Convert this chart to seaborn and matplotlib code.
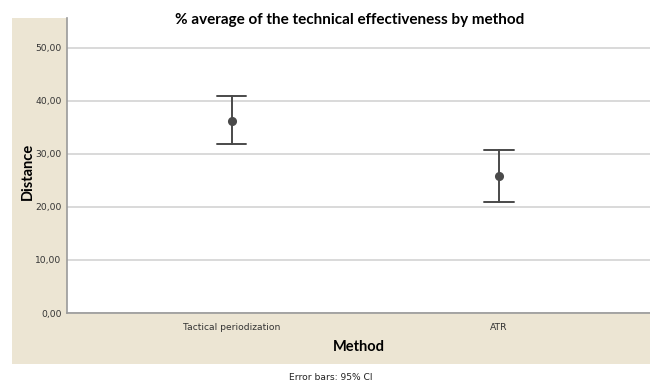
import matplotlib
matplotlib.use("Agg")
import matplotlib.pyplot as plt
import seaborn as sns
import pandas as pd
from matplotlib.patches import Rectangle

# values
methods = ["Tactical periodization", "ATR"]
means = [36.3, 25.9]
ci_low = [31.8, 21.0]
ci_high = [41.0, 30.8]

# three rows per method: lower bound, mean, upper bound
rows = []
for m, lo, mu, hi in zip(methods, ci_low, means, ci_high):
    for v in (lo, mu, hi):
        rows.append({"Method": m, "Distance": v})
df = pd.DataFrame(rows)

sns.set_theme(style="white")
plt.rcParams["font.family"] = ["Lato", "DejaVu Sans"]

beige = "#ECE5D3"
dark = "#4A4A4A"

fig = plt.figure(figsize=(6.5, 3.83), dpi=100)
fig.patch.set_facecolor("white")
fig.patches.append(Rectangle((12 / 650, 1 - 364 / 383), 638 / 650, 346 / 383,
                             transform=fig.transFigure, facecolor=beige,
                             edgecolor="none", zorder=-10))

ax = fig.add_axes([67 / 650, 1 - 313 / 383, 583 / 650, 295 / 383])
ax.set_facecolor("white")

sns.pointplot(data=df, x="Method", y="Distance", order=methods,
              estimator="median", errorbar=("pi", 100), capsize=0.11,
              color=dark, markers="o", linestyles="none",
              markersize=4.5, err_kws={"linewidth": 1.4}, ax=ax)

ax.set_ylim(0, 55.66)
ax.set_xlim(-0.615, 1.564)
ax.set_yticks([0, 10, 20, 30, 40, 50])
ax.set_yticklabels(["0,00", "10,00", "20,00", "30,00", "40,00", "50,00"])
ax.yaxis.grid(True, color="#D0D0D0", linewidth=1.1)
ax.set_axisbelow(True)
for s in ["top", "right"]:
    ax.spines[s].set_visible(False)
for s in ["left", "bottom"]:
    ax.spines[s].set_color("#9A9A9A")
    ax.spines[s].set_linewidth(1.2)
ax.tick_params(axis="both", length=0, colors="#333333", pad=4)
for lab in ax.get_yticklabels() + ax.get_xticklabels():
    lab.set_family("DejaVu Sans")
    lab.set_fontsize(6.6)
ax.tick_params(axis="x", pad=7)

ax.set_xlabel("Method", fontsize=10.5, fontweight="bold", color="black", labelpad=6)
ax.set_ylabel("")
fig.text(28 / 650, 1 - 171 / 383, "Distance", rotation=90, ha="center", va="center",
         fontsize=10.5, fontweight="bold", color="black")

fig.text(350 / 650, 1 - 20 / 383, "% average of the technical effectiveness by method",
         ha="center", va="center", fontsize=11, fontweight="bold", color="black")
fig.text(331 / 650, 1 - 378 / 383, "Error bars: 95% CI", ha="center", va="center",
         fontsize=6.6, family="DejaVu Sans", color="#222222")

fig.savefig("out.png", dpi=100, facecolor="white")
